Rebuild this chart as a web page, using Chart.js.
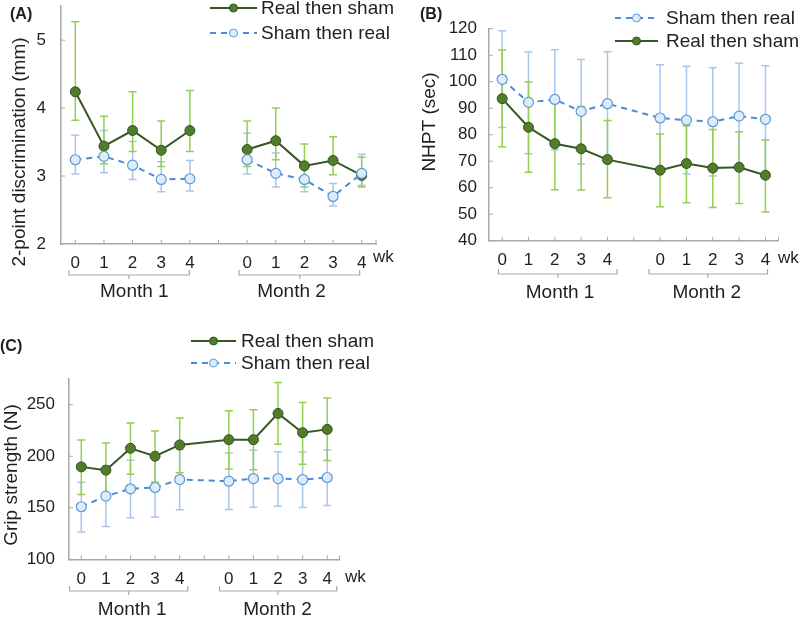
<!DOCTYPE html>
<html>
<head>
<meta charset="utf-8">
<script src="https://cdn.jsdelivr.net/npm/chart.js@4.4.1/dist/chart.umd.min.js"></script>
<style>
  body { margin: 0; background: #fff; width: 800px; height: 617px; position: relative; overflow: hidden; }
  canvas { position: absolute; }
</style>
</head>
<body>
<canvas id="chartA" width="410" height="305" style="left:0;top:0"></canvas>
<canvas id="chartB" width="390" height="305" style="left:410px;top:0"></canvas>
<canvas id="chartC" width="410" height="307" style="left:0;top:310px"></canvas>
<script>
const weeks = ["0", "1", "2", "3", "4", "", "0", "1", "2", "3", "4"];
const months = ["Month 1", "Month 2"];

// (A) 2-point discrimination (mm)
const twoPtTicks   = [2, 3, 4, 5];
const twoPtReal    = [4.24, 3.44, 3.67, 3.38, 3.67, null, 3.39, 3.52, 3.15, 3.23, 3.01];
const twoPtRealHi  = [5.27, 3.88, 4.24, 3.81, 4.26, null, 3.81, 4.00, 3.47, 3.58, 3.28];
const twoPtRealLo  = [3.82, 3.18, 3.36, 3.14, 3.36, null, 3.14, 3.24, 2.84, 3.02, 2.84];
const twoPtSham    = [3.24, 3.29, 3.16, 2.95, 2.96, null, 3.24, 3.04, 2.95, 2.70, 3.04];
const twoPtShamHi  = [3.60, 3.67, 3.51, 3.21, 3.23, null, 3.63, 3.34, 3.17, 2.89, 3.32];
const twoPtShamLo  = [3.03, 3.05, 2.95, 2.77, 2.78, null, 3.03, 2.84, 2.77, 2.56, 2.86];

// (B) NHPT (sec)
const nhptTicks  = [40, 50, 60, 70, 80, 90, 100, 110, 120];
const nhptSham   = [100.9, 92.2, 93.3, 88.8, 91.7, null, 86.3, 85.5, 84.9, 87.0, 85.8];
const nhptShamHi = [119.2, 111.2, 112.1, 108.4, 111.3, null, 106.4, 105.8, 105.3, 107.0, 106.0];
const nhptShamLo = [82.7, 72.8, 74.3, 68.9, 72.1, null, 66.0, 65.2, 64.4, 67.0, 65.6];
const nhptReal   = [93.6, 82.8, 76.6, 74.7, 70.6, null, 66.6, 69.1, 67.4, 67.7, 64.7];
const nhptRealHi = [112.0, 99.9, 94.3, 90.6, 85.4, null, 80.3, 83.4, 82.0, 81.1, 78.0];
const nhptRealLo = [75.5, 65.8, 59.2, 59.1, 56.2, null, 52.8, 54.3, 52.5, 54.0, 50.8];

// (C) Grip strength (N)
const gripTicks  = [100, 150, 200, 250];
const gripReal   = [189.7, 186.5, 207.7, 200.0, 211.0, null, 216.1, 216.1, 241.6, 222.9, 226.1];
const gripRealHi = [215.8, 212.9, 232.3, 224.5, 237.1, null, 244.2, 245.2, 271.6, 252.3, 256.5];
const gripRealLo = [162.9, 160.5, 182.6, 174.8, 183.9, null, 187.7, 186.8, 211.6, 192.3, 195.8];
const gripSham   = [151.0, 161.3, 168.4, 169.7, 177.4, null, 175.8, 178.4, 178.4, 177.4, 179.4];
const gripShamHi = [174.8, 190.6, 196.1, 198.0, 206.5, null, 203.2, 205.8, 204.5, 204.2, 206.1];
const gripShamLo = [126.5, 131.9, 140.3, 141.0, 148.1, null, 148.4, 150.6, 151.6, 150.3, 152.3];

const FONT = "'Liberation Sans', Arial, sans-serif";
const TXT = "#1f1f1f";
const AXIS = "#a8a8a8";

function realSet(data, hi, lo, span) {
  return {
    label: "Real then sham", data, errHi: hi, errLo: lo, errColor: "#92d050",
    borderColor: "#375623", borderWidth: 2, tension: 0, spanGaps: span,
    pointRadius: 5, pointBackgroundColor: "#4f7d2c", pointBorderColor: "#34521f", pointBorderWidth: 1
  };
}
function shamSet(data, hi, lo, span) {
  return {
    label: "Sham then real", data, errHi: hi, errLo: lo, errColor: "#a9c5ec",
    borderColor: "#4a8ad6", borderWidth: 2, borderDash: [6, 5], tension: 0, spanGaps: span,
    pointRadius: 5, pointBackgroundColor: "#deebf8", pointBorderColor: "#5b9bd5", pointBorderWidth: 1.2
  };
}

// error bars drawn under the lines
const errorBars = {
  id: "errorBars",
  beforeDatasetsDraw(chart) {
    const ctx = chart.ctx, y = chart.scales.y;
    chart.data.datasets.forEach((ds, di) => {
      const meta = chart.getDatasetMeta(di);
      ctx.save();
      ctx.strokeStyle = ds.errColor;
      ctx.lineWidth = 1.5;
      ds.data.forEach((v, i) => {
        if (v == null) return;
        const x = meta.data[i].x;
        const yHi = y.getPixelForValue(ds.errHi[i]);
        const yLo = y.getPixelForValue(ds.errLo[i]);
        ctx.beginPath();
        ctx.moveTo(x, yHi); ctx.lineTo(x, yLo);
        ctx.moveTo(x - 4, yHi); ctx.lineTo(x + 4, yHi);
        ctx.moveTo(x - 4, yLo); ctx.lineTo(x + 4, yLo);
        ctx.stroke();
      });
      ctx.restore();
    });
  }
};

// inner ticks, titles, legend, week unit and month brackets
const decor = {
  id: "decor",
  afterDraw(chart, args, o) {
    const { ctx, chartArea: a, scales: { x, y } } = chart;
    ctx.save();
    ctx.strokeStyle = AXIS;
    ctx.lineWidth = 1;
    ctx.beginPath();
    x.ticks.forEach((t, i) => {
      const px = x.getPixelForTick(i);
      ctx.moveTo(px, a.bottom); ctx.lineTo(px, a.bottom - 4);
    });
    ctx.moveTo(a.right, a.bottom); ctx.lineTo(a.right, a.bottom - 4);
    y.ticks.forEach(t => {
      const py = y.getPixelForValue(t.value);
      ctx.moveTo(a.left, py); ctx.lineTo(a.left + 4, py);
    });
    ctx.stroke();

    ctx.fillStyle = TXT;
    ctx.textBaseline = "middle";
    ctx.font = "bold 16px " + FONT;
    ctx.textAlign = "left";
    ctx.fillText(o.label, o.labelX, o.labelY);

    ctx.font = "19px " + FONT;
    ctx.save();
    ctx.translate(o.titleX, o.titleY);
    ctx.rotate(-Math.PI / 2);
    ctx.textAlign = "center";
    ctx.fillText(o.title, 0, 0);
    ctx.restore();

    // legend
    o.legend.rows.forEach(r => {
      const ds = chart.data.datasets[r.ds];
      ctx.save();
      ctx.strokeStyle = ds.borderColor;
      ctx.lineWidth = 2;
      ctx.setLineDash(ds.borderDash || []);
      ctx.beginPath();
      ctx.moveTo(o.legend.x1, r.y); ctx.lineTo(o.legend.x2, r.y);
      ctx.stroke();
      ctx.setLineDash([]);
      ctx.beginPath();
      ctx.arc((o.legend.x1 + o.legend.x2) / 2, r.y, 4, 0, Math.PI * 2);
      ctx.fillStyle = ds.pointBackgroundColor;
      ctx.fill();
      ctx.strokeStyle = ds.pointBorderColor;
      ctx.lineWidth = 1;
      ctx.stroke();
      ctx.restore();
      ctx.textAlign = "left";
      ctx.fillText(ds.label, o.legend.tx, r.y + 1);
    });

    ctx.font = "17px " + FONT;
    ctx.fillText("wk", o.wkX, o.wkY);

    // month brackets
    ctx.strokeStyle = AXIS;
    ctx.lineWidth = 1.2;
    ctx.font = "19px " + FONT;
    ctx.textAlign = "center";
    o.brackets.forEach((b, i) => {
      const x1 = x.getPixelForValue(b.from), x2 = x.getPixelForValue(b.to), xm = x.getPixelForValue(b.mid);
      ctx.beginPath();
      ctx.moveTo(x1, o.bracketY - 5); ctx.lineTo(x1, o.bracketY);
      ctx.lineTo(x2, o.bracketY); ctx.lineTo(x2, o.bracketY - 5);
      ctx.moveTo(xm, o.bracketY); ctx.lineTo(xm, o.bracketY + 4);
      ctx.stroke();
      ctx.fillText(months[i], x.getPixelForValue(b.text), o.monthY);
    });
    ctx.restore();
  }
};

function buildChart(id, o) {
  const cv = document.getElementById(id);
  const W = cv.width, H = cv.height;
  const axisBorder = { color: AXIS, width: 1.5 };
  return new Chart(cv, {
    type: "line",
    data: { labels: weeks, datasets: o.datasets },
    options: {
      responsive: false,
      animation: false,
      layout: { padding: { top: o.plot.top, right: W - o.plot.right, left: 0, bottom: 0 } },
      plugins: { legend: { display: false }, tooltip: { enabled: false }, decor: o.decor },
      scales: {
        x: {
          offset: true,
          grid: { display: false, drawTicks: false },
          border: axisBorder,
          ticks: { autoSkip: false, maxRotation: 0, padding: o.xPad, color: TXT, font: { family: FONT, size: 17 } },
          afterFit: s => { s.height = H - o.plot.bottom; s.paddingLeft = 0; s.paddingRight = 0; }
        },
        y: {
          min: o.yMin, max: o.yMax,
          grid: { display: false, drawTicks: false },
          border: axisBorder,
          afterBuildTicks: s => { s.ticks = o.yTicks.map(v => ({ value: v })); },
          ticks: { padding: o.yPad, color: TXT, font: { family: FONT, size: 17 } },
          afterFit: s => { s.width = o.plot.left; s.paddingTop = 0; s.paddingBottom = 0; }
        }
      }
    },
    plugins: [errorBars, decor]
  });
}

buildChart("chartA", {
  datasets: [shamSet(twoPtSham, twoPtShamHi, twoPtShamLo, false), realSet(twoPtReal, twoPtRealHi, twoPtRealLo, false)],
  yMin: 2, yMax: 5.5, yTicks: twoPtTicks,
  plot: { left: 61, right: 376, top: 3, bottom: 244 },
  xPad: 9, yPad: 15,
  decor: {
    label: "(A)", labelX: 10, labelY: 15,
    title: "2-point discrimination (mm)", titleX: 20, titleY: 152,
    legend: { x1: 210, x2: 257, tx: 261, rows: [{ ds: 1, y: 8 }, { ds: 0, y: 33 }] },
    wkX: 373, wkY: 257,
    bracketY: 275, monthY: 292,
    brackets: [{ from: -0.22, to: 3.98, mid: 1.87, text: 2.06 }, { from: 5.72, to: 9.93, mid: 7.84, text: 7.55 }]
  }
});

buildChart("chartB", {
  datasets: [shamSet(nhptSham, nhptShamHi, nhptShamLo, true), realSet(nhptReal, nhptRealHi, nhptRealLo, true)],
  yMin: 40, yMax: 120, yTicks: nhptTicks,
  plot: { left: 79, right: 368.6, top: 28.7, bottom: 240.7 },
  xPad: 9, yPad: 12,
  decor: {
    label: "(B)", labelX: 10, labelY: 15,
    title: "NHPT (sec)", titleX: 20, titleY: 122,
    legend: { x1: 205, x2: 248, tx: 256, rows: [{ ds: 0, y: 18 }, { ds: 1, y: 41 }] },
    wkX: 368, wkY: 258,
    bracketY: 274, monthY: 293,
    brackets: [{ from: -0.14, to: 4.36, mid: 2.12, text: 2.2 }, { from: 5.58, to: 10.08, mid: 7.81, text: 7.77 }]
  }
});

buildChart("chartC", {
  datasets: [shamSet(gripSham, gripShamHi, gripShamLo, true), realSet(gripReal, gripRealHi, gripRealLo, true)],
  yMin: 100, yMax: 275, yTicks: gripTicks,
  plot: { left: 69, right: 339.5, top: 69, bottom: 249.3 },
  xPad: 9.5, yPad: 14,
  decor: {
    label: "(C)", labelX: 0, labelY: 37,
    title: "Grip strength (N)", titleX: 12, titleY: 165,
    legend: { x1: 191, x2: 236, tx: 241, rows: [{ ds: 1, y: 31 }, { ds: 0, y: 53 }] },
    wkX: 345, wkY: 267,
    bracketY: 281, monthY: 300,
    brackets: [{ from: -0.48, to: 4.33, mid: 1.93, text: 2.07 }, { from: 5.62, to: 10.39, mid: 8.0, text: 7.98 }]
  }
});
</script>
</body>
</html>
